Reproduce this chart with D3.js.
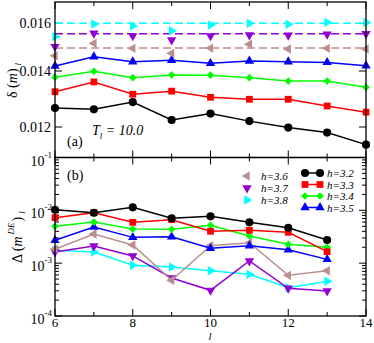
<!DOCTYPE html>
<html><head><meta charset="utf-8">
<script src="https://cdn.jsdelivr.net/npm/d3@7"></script>
<style>body{margin:0;background:#fff}svg{display:block}</style>
</head><body>
<script>
// ---- data ----
const lTop = [6,7,8,9,10,11,12,13,14];
const lBot = [6,7,8,9,10,11,12,13];
const hLabels = ["h=3.2","h=3.3","h=3.4","h=3.5","h=3.6","h=3.7","h=3.8"];
const colors = ["#000000","#ff0000","#00ff00","#0000ff","#bc8f8f","#9400d3","#00ffff"];
const symbols = ["circle","square","diamond","up","left","down","right"];
// panel (a): delta(m)_l
const topH32 = [0.01268,0.01263,0.01289,0.01225,0.01248,0.01221,0.01198,0.01180,0.01137];
const topH33 = [0.01326,0.01361,0.01317,0.01328,0.01306,0.01299,0.01299,0.01275,0.01253];
const topH34 = [0.01378,0.01399,0.01376,0.01386,0.01385,0.01376,0.01364,0.01364,0.01342];
const topH35 = [0.01421,0.01460,0.01439,0.01445,0.01432,0.01442,0.01439,0.01436,0.01422];
const topH36 = [0.01464,0.01516,0.01495,0.01474,0.01496,0.01512,0.01492,0.01495,0.01492];
const topH37 = [0.01502,0.01558,0.01547,0.01530,0.01547,0.01551,0.01550,0.01554,0.01556];
const topH38 = [0.01544,0.01597,0.01589,0.01569,0.01593,0.01600,0.01596,0.01604,0.01603];
const refLines = [0.01496,0.01556,0.01600]; // dashed: h=3.6, 3.7, 3.8
// panel (b): Delta(m^DE)_l
const botH32 = [0.01028,0.00902,0.0114,0.00706,0.0077,0.00593,0.00469,0.00274];
const botH33 = [0.00726,0.00902,0.00593,0.00665,0.00401,0.00419,0.00384,0.00165];
const botH34 = [0.00499,0.00601,0.00443,0.00437,0.00521,0.00327,0.00227,0.00200];
const botH35 = [0.00271,0.00483,0.00308,0.00317,0.00191,0.00214,0.00180,0.00118];
const botH36 = [0.00183,0.00356,0.00221,0.000474,0.00214,0.00244,0.000589,0.000720];
const botH37 = [0.00163,0.00211,0.00137,0.000524,0.000306,0.00110,0.000334,0.000297];
const botH38 = [0.00175,0.00163,0.000912,0.000846,0.000720,0.000615,0.000343,0.000454];
const xTicks = [6,8,10,12,14];
const topTicks = [0.012,0.014,0.016];
const topTickLabels = ["0.012","0.014","0.016"];
const botTickExp = ["-4","-3","-2","-1"];

const topSeries = [topH32,topH33,topH34,topH35,topH36,topH37,topH38];
const botSeries = [botH32,botH33,botH34,botH35,botH36,botH37,botH38];

// ---- layout ----
const FONT = "'Liberation Serif','DejaVu Serif','Times New Roman',serif";
const W=374,H=343, L=55, R=366, T=2, M=157.5, B=316;
const svg = d3.select("body").append("svg").attr("width",W).attr("height",H)
  .attr("font-family",FONT);
const x = d3.scaleLinear().domain([6,14]).range([L,R]);
const yT = d3.scaleLinear().domain([0.012,0.014,0.016]).range([127,71,23.3]);
const yB = d3.scaleLog().domain([1e-4,1e-1]).range([B,M]);

function sym(kind){
  if(kind==="circle") return {t:d3.symbolCircle,s:52,r:0};
  if(kind==="square") return {t:d3.symbolSquare,s:46,r:0};
  if(kind==="diamond") return {t:d3.symbolSquare,s:30,r:45};
  const rot={up:0,down:180,left:-90,right:90}[kind];
  return {t:d3.symbolTriangle,s:38,r:rot};
}
function marker(g,cx,cy,kind,color){
  const s=sym(kind);
  g.append("path").attr("d",d3.symbol().type(s.t).size(s.s)())
   .attr("transform",`translate(${cx},${cy}) rotate(${s.r})`).attr("fill",color);
}

// ---- ticks ----
const tk = svg.append("g").attr("stroke","#000").attr("stroke-width",1);
d3.range(6,15).forEach(v=>{
  const len = v%2===0?7:4;
  [[T,1],[M,-1],[M,1],[B,-1]].forEach(([yy,d])=>{
    tk.append("line").attr("x1",x(v)).attr("x2",x(v)).attr("y1",yy).attr("y2",yy+d*len);
  });
});
topTicks.forEach(v=>{
  tk.append("line").attr("x1",L).attr("x2",L+7).attr("y1",yT(v)).attr("y2",yT(v));
  tk.append("line").attr("x1",R).attr("x2",R-7).attr("y1",yT(v)).attr("y2",yT(v));
});
[-4,-3,-2].forEach(e=>{
  for(let k=1;k<=9;k++){
    const v=k*Math.pow(10,e), len=k===1?7:4;
    tk.append("line").attr("x1",L).attr("x2",L+len).attr("y1",yB(v)).attr("y2",yB(v));
    tk.append("line").attr("x1",R).attr("x2",R-len).attr("y1",yB(v)).attr("y2",yB(v));
  }
});

// ---- top panel ----
const gT = svg.append("g");
refLines.forEach((v,i)=>{
  gT.append("line").attr("x1",L).attr("x2",R).attr("y1",yT(v)).attr("y2",yT(v))
    .attr("stroke",colors[4+i]).attr("stroke-width",1.5).attr("stroke-dasharray","8,4");
});
topSeries.forEach((s,i)=>{
  if(i<4){
    gT.append("path").datum(s).attr("fill","none").attr("stroke",colors[i]).attr("stroke-width",1.5)
      .attr("d",d3.line().x((d,j)=>x(lTop[j])).y(d=>yT(d)));
  }
  s.forEach((v,j)=>marker(gT,x(lTop[j]),yT(v),symbols[i],colors[i]));
});

// ---- bottom panel ----
const gB = svg.append("g");
[6,5,4,3,2,1,0].forEach(i=>{
  const s=botSeries[i];
  gB.append("path").datum(s).attr("fill","none").attr("stroke",colors[i]).attr("stroke-width",1.5)
    .attr("d",d3.line().x((d,j)=>x(lBot[j])).y(d=>yB(d)));
  s.forEach((v,j)=>marker(gB,x(lBot[j]),yB(v),symbols[i],colors[i]));
});

// ---- frames ----
svg.append("rect").attr("x",L).attr("y",T).attr("width",R-L).attr("height",M-T)
  .attr("fill","none").attr("stroke","#000").attr("stroke-width",1.3);
svg.append("rect").attr("x",L).attr("y",M).attr("width",R-L).attr("height",B-M)
  .attr("fill","none").attr("stroke","#000").attr("stroke-width",1.3);

// ---- tick labels ----
const lab = svg.append("g").attr("font-size",14).attr("fill","#000");
xTicks.forEach(v=>{
  lab.append("text").attr("x",x(v)).attr("y",327).attr("font-size",13)
    .attr("text-anchor","middle").text(v);
});
topTicks.forEach((v,i)=>{
  lab.append("text").attr("x",51).attr("y",yT(v)+5).attr("text-anchor","end").text(topTickLabels[i]);
});
botTickExp.forEach((e,i)=>{
  const v=Math.pow(10,+e);
  const t=lab.append("text").attr("x",52).attr("y",yB(v)+8).attr("text-anchor","end");
  t.append("tspan").text("10");
  t.append("tspan").attr("font-size",9).attr("dy",-8).text(e);
});

// ---- axis titles ----
svg.append("text").attr("x",210).attr("y",340).attr("text-anchor","middle")
  .attr("font-size",11).attr("font-style","italic").text("l");
const t1 = svg.append("text").attr("transform","translate(17,98) rotate(-90)").attr("font-size",14);
t1.append("tspan").text("δ (");
t1.append("tspan").attr("font-style","italic").text("m");
t1.append("tspan").text(")");
t1.append("tspan").attr("font-size",9).attr("font-style","italic").attr("dy",4).attr("dx",3).text("l");
const t2 = svg.append("text").attr("transform","translate(22,263) rotate(-90)").attr("font-size",14);
t2.append("tspan").text("Δ (");
t2.append("tspan").attr("font-style","italic").text("m");
t2.append("tspan").attr("font-size",9).attr("font-style","italic").attr("dy",-8).attr("dx",2).text("DE");
t2.append("tspan").attr("dy",8).attr("dx",1).text(")");
t2.append("tspan").attr("font-size",9).attr("font-style","italic").attr("dy",3).attr("dx",3).text("l");

// ---- annotations ----
svg.append("text").attr("x",67).attr("y",146).attr("font-size",14).text("(a)");
svg.append("text").attr("x",67).attr("y",180).attr("font-size",14).text("(b)");
const ta = svg.append("text").attr("x",92).attr("y",135).attr("font-size",14).attr("font-style","italic");
ta.append("tspan").text("T");
ta.append("tspan").attr("font-size",9).attr("dy",4).text("l");
ta.append("tspan").attr("dy",-4).text(" = 10.0");

// ---- legend ----
const lg = svg.append("g").attr("font-size",11).attr("font-style","italic");
[4,5,6].forEach((i,k)=>{
  const yy=176+k*12;
  marker(lg,247,yy,symbols[i],colors[i]);
  lg.append("text").attr("x",261).attr("y",yy+4).text(hLabels[i]);
});
[0,1,2,3].forEach((i,k)=>{
  const yy=173+k*11.5;
  lg.append("line").attr("x1",305).attr("x2",320).attr("y1",yy).attr("y2",yy)
    .attr("stroke",colors[i]).attr("stroke-width",1.5);
  marker(lg,305,yy,symbols[i],colors[i]);
  marker(lg,320,yy,symbols[i],colors[i]);
  lg.append("text").attr("x",327).attr("y",yy+4).text(hLabels[i]);
});
</script>
</body></html>
